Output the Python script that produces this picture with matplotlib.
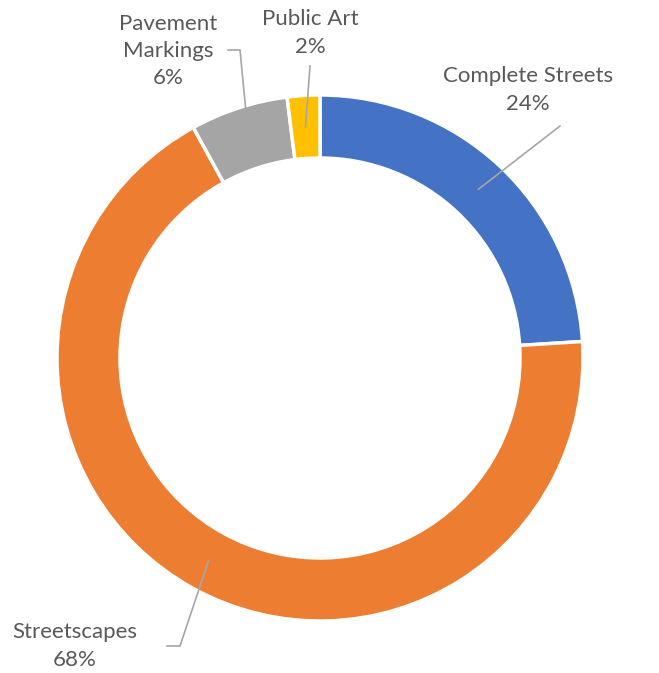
import numpy as np
import matplotlib
matplotlib.use('Agg')
import matplotlib.pyplot as plt

# --- data ---
categories = ['Complete Streets', 'Streetscapes', 'Pavement Markings', 'Public Art']
values = [24, 68, 6, 2]
colors = ['#4472C4', '#ED7D31', '#A5A5A5', '#FFC000']
label_text = ['Complete Streets\n24%', 'Streetscapes\n68%', 'Pavement\nMarkings\n6%', 'Public Art\n2%']

W, H = 659, 673
fig = plt.figure(figsize=(W / 100, H / 100), dpi=100)
ax = fig.add_axes([0, 0, 1, 1])

cx, cy = 320, H - 358
R, ring = 263, 63

wedges, _ = ax.pie(values, colors=colors, startangle=90, counterclock=False,
                   radius=R, center=(cx, cy), frame=True,
                   wedgeprops=dict(width=ring, edgecolor='white', linewidth=2.5))
ax.set_xlim(0, W)
ax.set_ylim(0, H)
ax.set_aspect('equal')
ax.axis('off')

# label positions (pixel coords, y from top) and leader elbows
text_pos = [(528, 90), (75, 646), (168, 51), (310, 33)]
elbows = [None, (180, 646, 167), (240, 50, 228), None]
line_tops = [(560, 126), None, None, (310, 66)]

tc = '#595959'
lc = '#A6A6A6'
rm = R - ring / 2
for w, txt, tp, el, lt in zip(wedges, label_text, text_pos, elbows, line_tops):
    ang = np.deg2rad((w.theta1 + w.theta2) / 2)
    ax_, ay_ = cx + rm * np.cos(ang), cy + rm * np.sin(ang)
    ax.text(tp[0], H - tp[1], txt, ha='center', va='center', color=tc,
            fontsize=16, family=['Lato', 'DejaVu Sans'], linespacing=1.45)
    if el is not None:
        ax.plot([ax_, el[0], el[2]], [ay_, H - el[1], H - el[1]], color=lc, lw=1.2,
                solid_joinstyle='miter')
    else:
        ax.plot([ax_, lt[0]], [ay_, H - lt[1]], color=lc, lw=1.2)

fig.savefig('out.png', dpi=100)
